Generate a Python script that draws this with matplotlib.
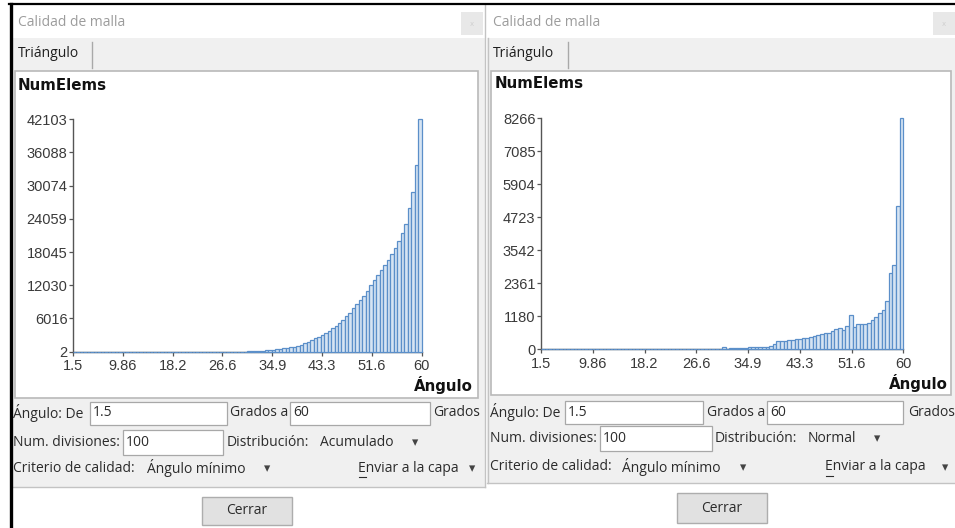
import matplotlib
matplotlib.use('Agg')
import matplotlib.pyplot as plt
from matplotlib import font_manager
from matplotlib.patches import Rectangle
import numpy as np

W, H = 955, 528

ANGLE_MIN = 1.5
ANGLE_MAX = 60
NUM_DIV = 100

xtick_labels = ['1.5', '9.86', '18.2', '26.6', '34.9', '43.3', '51.6', '60']
acum_ytick_labels = ['2', '6016', '12030', '18045', '24059', '30074', '36088', '42103']
normal_ytick_labels = ['0', '1180', '2361', '3542', '4723', '5904', '7085', '8266']

# distribucion "Acumulado" (panel izquierdo), 100 divisiones
acum_counts = [
    2, 2, 2, 2, 2, 2, 2, 2, 2, 2,
    2, 2, 2, 2, 2, 2, 2, 2, 2, 2,
    2, 2, 2, 2, 2, 2, 2, 2, 2, 2,
    2, 2, 2, 2, 2, 2, 2, 2, 2, 2,
    3, 3, 3, 4, 4, 5, 6, 8, 20, 30,
    100, 110, 145, 180, 215, 250, 290, 380, 470, 560,
    650, 740, 830, 940, 1090, 1300, 1560, 1840, 2130, 2420,
    2720, 3060, 3430, 3820, 4240, 4700, 5230, 5800, 6420, 7100,
    7860, 8640, 9390, 10080, 10910, 12140, 12950, 13850, 14760, 15660,
    16590, 17640, 18780, 20070, 21480, 23220, 25960, 28980, 33837, 42103,
]

# distribucion "Normal" (panel derecho), 100 divisiones
normal_counts = [
    2, 0, 0, 0, 0, 0, 0, 0, 0, 0,
    0, 0, 0, 0, 0, 0, 0, 0, 0, 0,
    0, 0, 0, 0, 0, 0, 0, 0, 0, 0,
    0, 0, 0, 0, 0, 0, 0, 0, 0, 0,
    0, 0, 0, 1, 1, 1, 2, 3, 5, 15,
    70, 10, 36, 36, 36, 36, 40, 90, 95, 95,
    95, 95, 100, 120, 180, 290, 305, 310, 315, 335,
    358, 375, 395, 420, 430, 470, 515, 540, 572, 600,
    655, 715, 750, 690, 834, 1227, 810, 905, 905, 905,
    930, 1048, 1145, 1288, 1406, 1739, 2741, 3016, 5127, 8266,
]

avail = {f.name for f in font_manager.fontManager.ttflist}
UI_FONT = 'Open Sans' if 'Open Sans' in avail else 'DejaVu Sans'
TICK_FONT = 'Liberation Sans' if 'Liberation Sans' in avail else 'DejaVu Sans'

GRAY_BG = '#f0f0f0'
BORDER = '#c3c3c3'
TEXT = '#2b2b2b'
UI_SIZE = 10


def px_axes(fig, x0, y_top, x1, y_bot):
    return fig.add_axes([x0 / W, 1 - y_bot / H, (x1 - x0) / W, (y_bot - y_top) / H])


def ui_text(bg, x, y, s, **kw):
    kw.setdefault('color', TEXT)
    kw.setdefault('fontsize', UI_SIZE)
    kw.setdefault('family', [UI_FONT, 'DejaVu Sans'])
    bg.text(x, y, s, va='center', ha=kw.pop('ha', 'left'), **kw)


def text_box(bg, x0, x1, y0, y1, value):
    bg.add_patch(Rectangle((x0, y0), x1 - x0, y1 - y0, facecolor='white',
                           edgecolor='#a8a8a8', linewidth=0.9))
    ui_text(bg, x0 + 3, (y0 + y1) / 2, value)


def arrow(bg, x, y):
    bg.text(x, y + 1, '\u25be', ha='center', va='center', fontsize=9,
            color='#444444', family='DejaVu Sans')


def draw_dialog(bg, d):
    x0, x1 = d['x0'], d['x1']
    # zona gris de pestañas y controles
    bg.add_patch(Rectangle((x0, 38), x1 - x0, d['gray_bottom'] - 38,
                           facecolor=GRAY_BG, edgecolor='none'))
    bg.plot([x0, x1], [d['gray_bottom'], d['gray_bottom']], color=BORDER, lw=1)
    # titulo y boton de cierre
    ui_text(bg, x0 + 6, 22.5, 'Calidad de malla', color='#9c9c9c')
    cx = d['close_x']
    bg.add_patch(Rectangle((cx, 12), 22, 23, facecolor='#e8e8e8', edgecolor='none'))
    bg.text(cx + 11, 23.5, 'x', ha='center', va='center', fontsize=5, color='#cfcfcf')
    # pestaña
    ui_text(bg, x0 + 6, 53.5, 'Triángulo', color='#1e1e1e')
    bg.plot([d['tab_sep'], d['tab_sep']], [42, 68], color='#a9a9a9', lw=1)
    # recuadro del grafico
    px0, px1, py0, py1 = d['panel']
    bg.add_patch(Rectangle((px0, py0), px1 - px0, py1 - py0, facecolor='white',
                           edgecolor='#b9b9b9', linewidth=1.2))
    # controles
    r1, r2, r3 = d['rows']
    c = d['ctrl']
    ui_text(bg, c['lbl'], r1, 'Ángulo: De')
    text_box(bg, c['box1'][0], c['box1'][1], r1 - 11.5, r1 + 11.5, '1.5')
    ui_text(bg, c['grados_a'], r1, 'Grados a')
    text_box(bg, c['box2'][0], c['box2'][1], r1 - 11.5, r1 + 11.5, '60')
    ui_text(bg, c['grados'], r1, 'Grados')

    ui_text(bg, c['lbl'], r2, 'Num. divisiones:')
    text_box(bg, c['box3'][0], c['box3'][1], r2 - 12.5, r2 + 12.5, '100')
    ui_text(bg, c['distr'], r2, 'Distribución:')
    ui_text(bg, c['distr_val'], r2, d['distribucion'])
    arrow(bg, c['arrow1'], r2)

    ui_text(bg, c['lbl'], r3, 'Criterio de calidad:')
    ui_text(bg, c['crit_val'], r3, 'Ángulo mínimo')
    arrow(bg, c['arrow2'], r3)
    ui_text(bg, c['capa'], r3, 'Enviar a la capa')
    bg.plot([c['capa'] + 0.5, c['capa'] + 7.5], [r3 + 8.5, r3 + 8.5], color=TEXT, lw=0.8)
    arrow(bg, c['arrow3'], r3)

    # boton cerrar
    bx0, bx1, by0, by1 = d['button']
    bg.add_patch(Rectangle((bx0, by0), bx1 - bx0, by1 - by0, facecolor='#e1e1e1',
                           edgecolor='#adadad', linewidth=1))
    ui_text(bg, (bx0 + bx1) / 2, (by0 + by1) / 2, 'Cerrar', ha='center')


def draw_histogram(fig, box, counts, ytick_labels, title_xy, xlabel_xy):
    ax = px_axes(fig, *box)
    edges = np.linspace(ANGLE_MIN, ANGLE_MAX, NUM_DIV + 1)
    ax.bar(edges[:-1], counts, width=np.diff(edges), align='edge',
           facecolor='#d6e4f3', edgecolor='#5b8fc9', linewidth=0.9,
           clip_on=False, zorder=3)
    ax.set_xlim(ANGLE_MIN, ANGLE_MAX)
    ax.set_ylim(min(counts), max(counts))
    ax.set_xticks(np.linspace(ANGLE_MIN, ANGLE_MAX, len(xtick_labels)))
    ax.set_xticklabels(xtick_labels)
    ax.set_yticks(np.linspace(min(counts), max(counts), len(ytick_labels)))
    ax.set_yticklabels(ytick_labels)
    ax.patch.set_alpha(0)
    for s in ['top', 'right']:
        ax.spines[s].set_visible(False)
    for s in ['left', 'bottom']:
        ax.spines[s].set_color('#555555')
        ax.spines[s].set_linewidth(1.0)
    ax.tick_params(direction='out', length=3, width=0.9, color='#555555',
                   labelsize=10.5, labelcolor='#3a3a3a', pad=1)
    ax.tick_params(axis='x', pad=2.5)
    for lab in ax.get_xticklabels() + ax.get_yticklabels():
        lab.set_family(TICK_FONT)
    fig.text(title_xy[0] / W, 1 - title_xy[1] / H, 'NumElems', fontsize=10.8,
             fontweight='bold', family='DejaVu Sans', color='#111111', va='center')
    fig.text(xlabel_xy[0] / W, 1 - xlabel_xy[1] / H, 'Ángulo', fontsize=10.8,
             fontweight='bold', family='DejaVu Sans', color='#111111',
             va='center', ha='right')
    return ax


def main():
    fig = plt.figure(figsize=(W / 100, H / 100), dpi=100)
    fig.patch.set_facecolor('white')
    bg = fig.add_axes([0, 0, 1, 1])
    bg.set_xlim(0, W)
    bg.set_ylim(H, 0)
    bg.axis('off')

    left = dict(
        x0=12, x1=485, gray_bottom=487, close_x=461, tab_sep=92,
        panel=(15, 478, 71, 398), rows=(413, 442, 468),
        ctrl=dict(lbl=13, box1=(90, 227), grados_a=230, box2=(290, 430), grados=433,
                  box3=(123, 223), distr=227, distr_val=320, arrow1=415,
                  crit_val=147, arrow2=267, capa=358, arrow3=472),
        distribucion='Acumulado', button=(202, 292, 497, 525))
    right = dict(
        x0=487, x1=955, gray_bottom=483, close_x=933, tab_sep=568,
        panel=(491, 951, 71, 395), rows=(412, 438, 467),
        ctrl=dict(lbl=490, box1=(565, 703), grados_a=707, box2=(767, 903), grados=908,
                  box3=(600, 712), distr=715, distr_val=808, arrow1=877,
                  crit_val=622, arrow2=743, capa=825, arrow3=945),
        distribucion='Normal', button=(677, 767, 493, 523))

    draw_dialog(bg, left)
    draw_dialog(bg, right)
    # separacion entre ventanas
    bg.plot([485, 485], [5, 487], color=BORDER, lw=1)
    bg.plot([487.5, 487.5], [38, 483], color=BORDER, lw=1)
    # marco negro de la figura original
    bg.plot([9, W], [3.5, 3.5], color='black', lw=1.6)
    bg.plot([10.5, 10.5], [3.5, H], color='black', lw=2.4)

    draw_histogram(fig, (73, 119.3, 421.7, 351.7), acum_counts, acum_ytick_labels,
                   (18, 85), (473, 385))
    draw_histogram(fig, (541, 118.3, 903.3, 349.3), normal_counts, normal_ytick_labels,
                   (495, 84), (948, 383))

    fig.savefig('out.png', dpi=100)


if __name__ == '__main__':
    main()
